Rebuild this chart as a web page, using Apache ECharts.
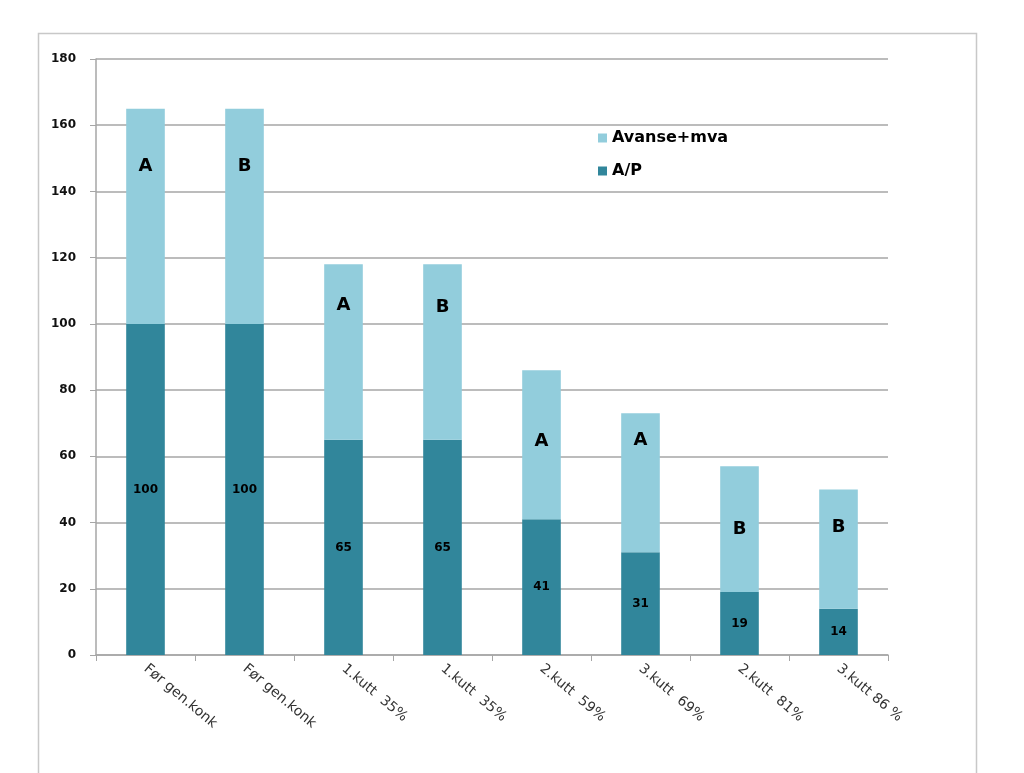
<!DOCTYPE html>
<html><head><meta charset="utf-8">
<script src="https://cdn.jsdelivr.net/npm/echarts@6/dist/echarts.min.js"></script>
<style>html,body{margin:0;padding:0;background:#fff}#c{width:1024px;height:773px}</style>
</head><body><div id="c"></div>
<script>
const categories = ['Før gen.konk','Før gen.konk','1.kutt  35%','1.kutt  35%','2.kutt  59%','3.kutt  69%','2.kutt  81%','3.kutt 86 %'];
const apValues = [100, 100, 65, 65, 41, 31, 19, 14];
const avanseValues = [65, 65, 53, 53, 45, 42, 38, 36];
const segmentLetters = ['A','B','A','B','A','A','B','B'];
const yTicks = [0,20,40,60,80,100,120,140,160,180];

// label vertical offsets (style only)
const letterOffsets = [-50,-50,-47,-45,-3,-42,0,-22];

const chart = echarts.init(document.getElementById('c'), null, {renderer:'canvas'});
const font = '"DejaVu Sans", Verdana, sans-serif';
chart.setOption({
  animation:false,
  backgroundColor:'#fff',
  graphic:[{type:'rect',shape:{x:38.5,y:33.5,width:938,height:760},style:{fill:'none',stroke:'#c8c8c8',lineWidth:1.5},silent:true,z:-1}],
  legend:{
    orient:'vertical', left:593, top:125, itemWidth:9, itemHeight:9, itemGap:17, icon:'rect',
    data:['Avanse+mva','A/P'],
    textStyle:{fontFamily:font,fontWeight:'bold',fontSize:16,color:'#000',lineHeight:16}
  },
  grid:{left:96,right:136,top:59,bottom:118,containLabel:false},
  xAxis:{
    type:'category', data:categories, boundaryGap:true,
    axisLine:{lineStyle:{color:'#a6a6a6',width:1.5}},
    axisTick:{show:true,length:6,alignWithLabel:false,lineStyle:{color:'#a6a6a6'}},
    axisLabel:{rotate:-40,interval:0,margin:12,fontFamily:font,fontSize:14,color:'#333'}
  },
  yAxis:{
    type:'value', min:0, max:180, interval:20,
    axisLine:{show:true,lineStyle:{color:'#a6a6a6',width:1.5}},
    axisTick:{show:true,length:6,lineStyle:{color:'#a6a6a6'}},
    splitLine:{lineStyle:{color:'#a6a6a6',width:1.5}},
    axisLabel:{fontFamily:font,fontSize:12,fontWeight:'bold',color:'#111',margin:20,
      formatter:v=>yTicks.includes(v)?String(v):''}
  },
  series:[
    {name:'A/P',type:'bar',stack:'t',barWidth:'39%',data:apValues,
     itemStyle:{color:'#31869b'},
     label:{show:true,position:'inside',fontFamily:font,fontWeight:'bold',fontSize:12,color:'#000'}},
    {name:'Avanse+mva',type:'bar',stack:'t',barWidth:'39%',
     data:avanseValues.map((v,i)=>({value:v,label:{offset:[0,letterOffsets[i]]}})),
     itemStyle:{color:'#92cddc'},
     label:{show:true,position:'inside',fontFamily:font,fontWeight:'bold',fontSize:18,color:'#000',
       formatter:p=>segmentLetters[p.dataIndex]}}
  ]
});
</script></body></html>
